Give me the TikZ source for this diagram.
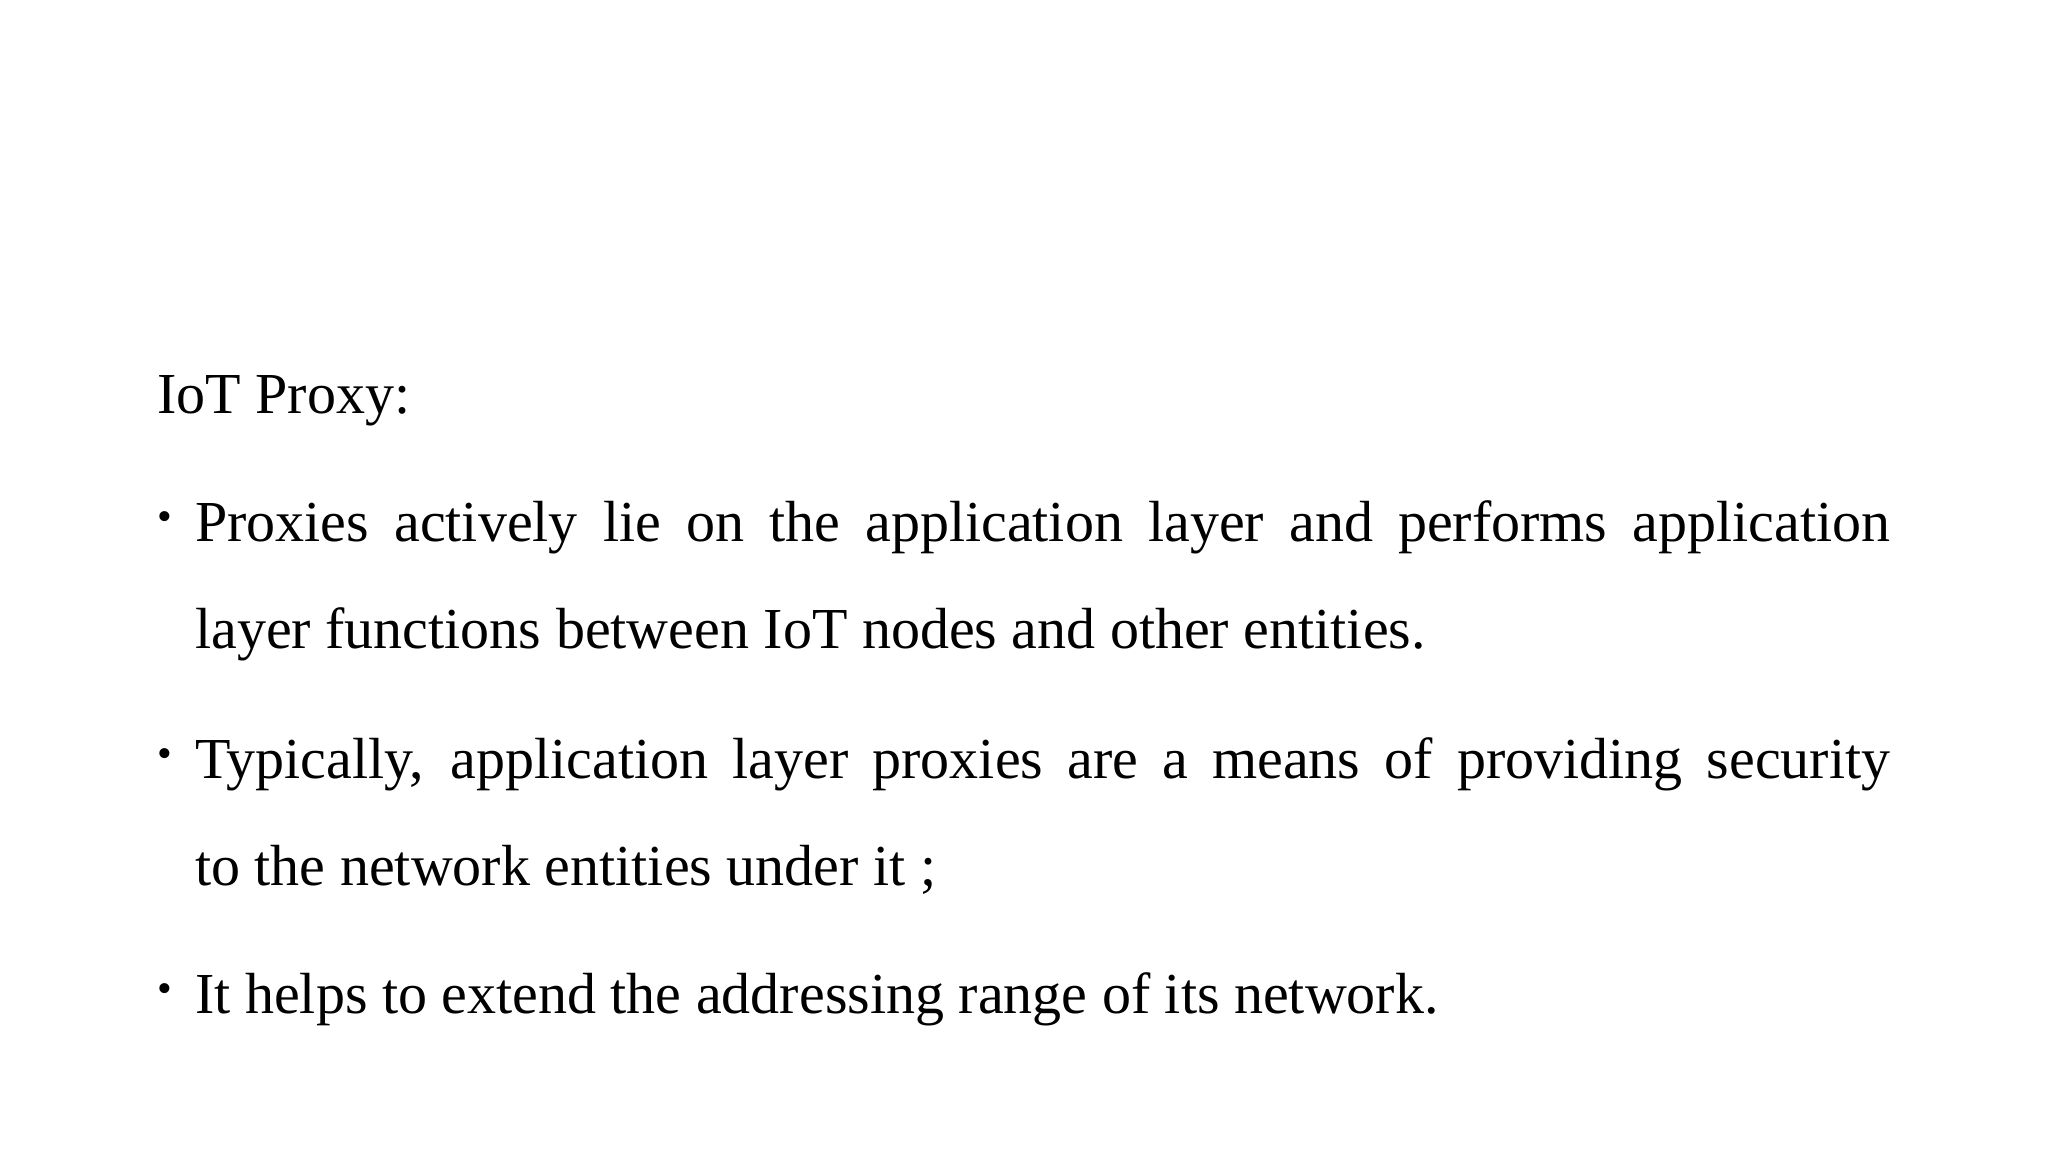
\documentclass[tikz,border=0pt]{standalone}
\usepackage{fontspec}
\setmainfont{Liberation Serif}
\begin{document}
\begin{tikzpicture}[x=1pt,y=-1pt,
  txt/.style={anchor=base west,inner sep=0pt,font=\fontsize{58}{70}\selectfont},
  bul/.style={anchor=base west,inner sep=0pt,font=\fontsize{42}{50}\selectfont}]
\useasboundingbox (0,0) rectangle (2048,1152);
\node[txt] (title) at (157,413) {IoT Proxy:};
\node[bul] (b1) at (157,530) {•};
\node[txt] (l1) at (195,541) {\makebox[1695pt][s]{Proxies actively lie on the application layer and performs application}};
\node[txt] (l2) at (195,648) {layer functions between IoT nodes and other entities.};
\node[bul] (b2) at (157,767) {•};
\node[txt] (l3) at (195,778) {\makebox[1695pt][s]{Typically, application layer proxies are a means of providing security}};
\node[txt] (l4) at (195,885) {to the network entities under it ;};
\node[bul] (b3) at (157,1002) {•};
\node[txt] (l5) at (195,1013) {It helps to extend the addressing range of its network.};
\end{tikzpicture}
\end{document}
